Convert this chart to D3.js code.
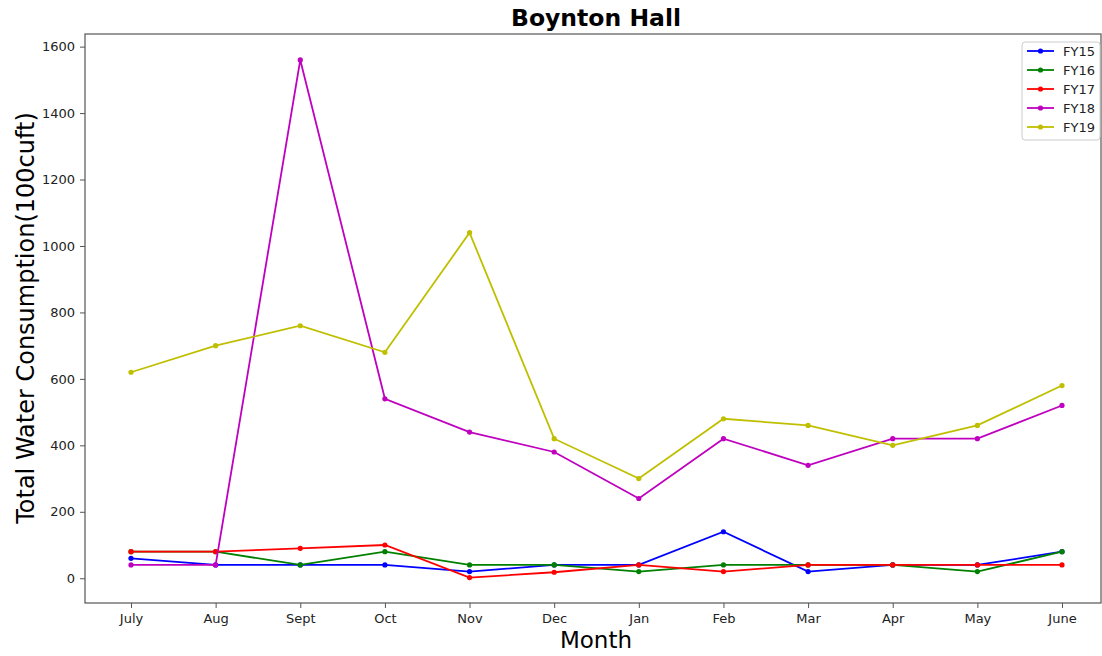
<!DOCTYPE html>
<html><head><meta charset="utf-8">
<script src="https://cdn.jsdelivr.net/npm/d3@7"></script>
<style>body{margin:0;background:#fff;font-family:"DejaVu Sans",sans-serif;}</style>
</head><body><svg id="c" width="1102" height="656"></svg>
<script>
const months = ["July","Aug","Sept","Oct","Nov","Dec","Jan","Feb","Mar","Apr","May","June"];
const seriesNames = ["FY15","FY16","FY17","FY18","FY19"];
const colors = ["#0000ff","#008000","#ff0000","#bf00bf","#bfbf00"];
const fy15 = [60,40,40,40,20,40,40,140,20,40,40,80];
const fy16 = [80,80,40,80,40,40,20,40,40,40,20,80];
const fy17 = [80,80,90,100,2,18,40,20,40,40,40,40];
const fy18 = [40,40,1560,540,440,380,240,420,340,420,420,520];
const fy19 = [620,700,760,680,1040,420,300,480,460,400,460,580];
const yTicks = [0,200,400,600,800,1000,1200,1400,1600];
const allSeries = [fy15,fy16,fy17,fy18,fy19];

const svg = d3.select("#c");
const L=85,R=1101,T=34,B=603;
const x = d3.scalePoint().domain(months).range([131,1062]);
const y = d3.scaleLinear().domain([-74.5,1638]).range([B,T]);

svg.append("g").attr("transform",`translate(0,${B})`)
  .call(d3.axisBottom(x).tickSize(5).tickPadding(6))
  .call(g=>{g.select(".domain").remove();g.selectAll("line").attr("stroke","#555");g.selectAll("text").attr("font-size",13).attr("fill","#222").attr("font-family","DejaVu Sans");});
svg.append("g").attr("transform",`translate(${L},0)`)
  .call(d3.axisLeft(y).tickValues(yTicks).tickFormat(d3.format("d")).tickSize(5).tickPadding(5))
  .call(g=>{g.select(".domain").remove();g.selectAll("line").attr("stroke","#555");g.selectAll("text").attr("font-size",13).attr("fill","#222").attr("font-family","DejaVu Sans");});
svg.append("rect").attr("x",L).attr("y",T).attr("width",R-L).attr("height",B-T)
  .attr("fill","none").attr("stroke","#555").attr("stroke-width",1.2);

const line = d3.line().x((d,i)=>x(months[i])).y(d=>y(d));
allSeries.forEach((s,k)=>{
  svg.append("path").datum(s).attr("d",line).attr("fill","none").attr("stroke",colors[k]).attr("stroke-width",1.8);
  svg.append("g").selectAll("circle").data(s).join("circle")
    .attr("cx",(d,i)=>x(months[i])).attr("cy",d=>y(d)).attr("r",2.6).attr("fill",colors[k]);
});

svg.append("text").attr("x",596).attr("y",26).attr("text-anchor","middle")
  .attr("font-size",23.5).attr("font-weight","bold").attr("fill","#000").text("Boynton Hall");
svg.append("text").attr("x",596).attr("y",648).attr("text-anchor","middle")
  .attr("font-size",23).attr("fill","#000").text("Month");
svg.append("text").attr("transform","translate(34,318) rotate(-90)").attr("text-anchor","middle")
  .attr("font-size",24).attr("fill","#000").text("Total Water Consumption(100cuft)");

const lg = svg.append("g");
lg.append("rect").attr("x",1022).attr("y",42).attr("width",78).attr("height",98).attr("rx",3)
  .attr("fill","#fff").attr("stroke","#ccc");
seriesNames.forEach((n,k)=>{
  const yy = 51 + k*19;
  lg.append("line").attr("x1",1027).attr("x2",1054).attr("y1",yy).attr("y2",yy).attr("stroke",colors[k]).attr("stroke-width",1.8);
  lg.append("circle").attr("cx",1040.5).attr("cy",yy).attr("r",2.6).attr("fill",colors[k]);
  lg.append("text").attr("x",1063).attr("y",yy+5).attr("font-size",13).attr("fill","#222").text(n);
});
</script></body></html>
